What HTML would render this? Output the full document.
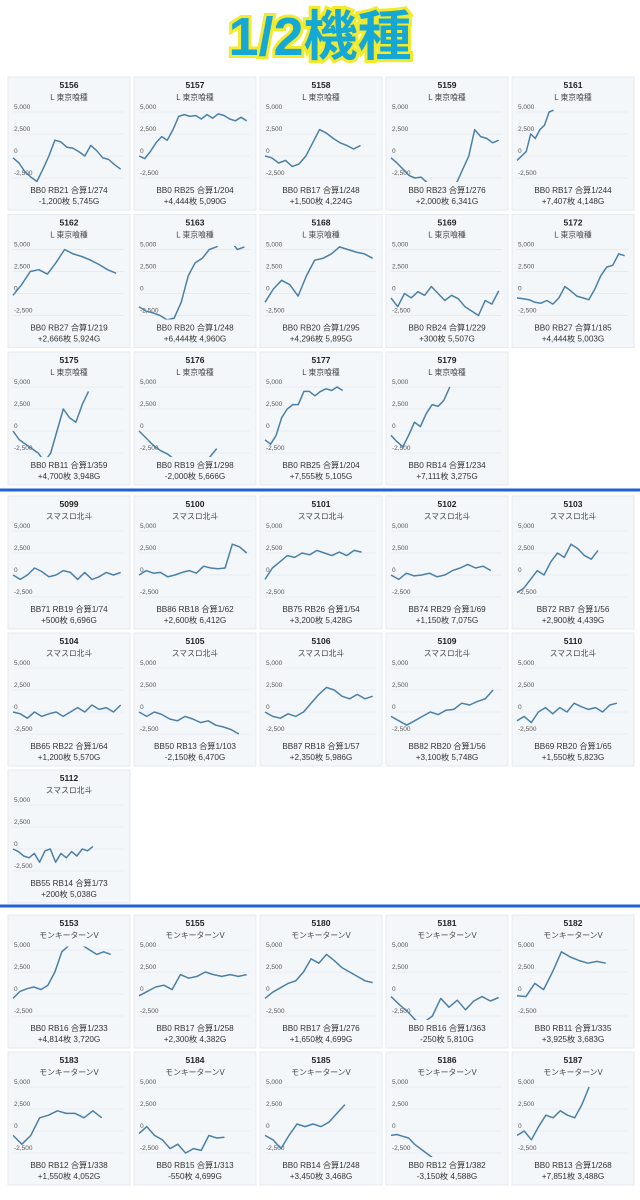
<!DOCTYPE html>
<html><head><meta charset="utf-8">
<style>
html,body{margin:0;padding:0;background:#fff;width:640px;height:1200px;overflow:hidden}
#title{position:absolute;left:0;top:2px;width:640px;text-align:center;font-family:"Liberation Sans","Noto Sans CJK JP",sans-serif;font-weight:bold;font-size:54px;line-height:70px;color:#16a8d4;-webkit-text-stroke:6px #f2ea2a;paint-order:stroke fill;letter-spacing:0px}
svg{position:absolute;left:0;top:0}
text{font-family:"Liberation Sans","Noto Sans CJK JP",sans-serif}
</style></head><body>
<div id="title">1/2機種</div>
<svg id="s" width="640" height="1200"></svg>
<script>
const ids=["5156","5157","5158","5159","5161","5162","5163","5168","5169","5172","5175","5176","5177","5179",
"5099","5100","5101","5102","5103","5104","5105","5106","5109","5110","5112",
"5153","5155","5180","5181","5182","5183","5184","5185","5186","5187"];
const models=[...Array(14).fill("L 東京喰種"),...Array(11).fill("スマスロ北斗"),...Array(10).fill("モンキーターンV")];
const values=[
[-200,-800,-1800,-2400,-2900,-1500,0,1800,1600,1000,900,500,0,1200,600,-200,-400,-1000,-1500],
[0,-300,500,1500,2200,1800,3000,4500,4700,4500,4600,4200,4700,4300,4800,4600,4200,4000,4400,4000],
[0,-200,-800,-500,-1200,-900,0,1500,3000,2600,2000,1500,1200,800,1200],
[-200,-800,-1500,-2200,-2500,-2400,-3000,-4000,-4500,-4500,-4000,-3000,-1500,0,3000,2200,2000,1500,1800],
[-500,0,500,2500,2000,3000,3500,5000,5200],
[-200,1000,2500,2700,2200,3500,5000,4500,4200,3800,3300,2700,2300],
[-1500,-2000,-2200,-2500,-3000,-2800,-1000,2000,3500,4000,5000,5300,6000,6000,5000,5300],
[-1000,500,1500,1000,-300,2000,3800,4000,4500,5300,5000,4700,4500,4000],
[-500,-1500,0,-500,200,-200,800,0,-800,-200,-600,-1500,-2000,-2500,-800,-1200,300],
[-500,-600,-700,-1000,-1100,-800,-1200,-500,800,300,-300,-500,-700,500,2000,3000,3200,4500,4300],
[0,-1000,-1500,-2000,-2500,-3500,-2500,0,2500,1500,1000,3000,4500],
[0,-800,-1600,-2200,-2600,-3200,-4000,-4500,-4500,-4000,-3000,-2000],
[-1000,-1500,-500,1500,2500,3000,3000,4500,4500,4000,4500,4800,4600,5000,4600],
[-500,-1200,-1800,-500,1000,500,2000,3000,2800,3500,5000],
[0,-500,0,800,400,-200,0,500,300,-500,300,-500,-200,300,0,300],
[0,500,200,300,-200,0,300,500,200,1000,800,700,800,3500,3200,2500],
[-500,800,1500,2200,2000,2500,2300,2800,2500,2200,2600,2200,2800,2600],
[0,-500,200,-100,0,200,-200,0,500,800,1200,800,1000,500],
[-2000,-1500,-500,500,0,1500,2500,2000,3500,3000,2200,1800,2800],
[0,-200,-700,0,-500,-200,0,-500,0,500,0,800,300,500,0,800],
[0,-500,0,-300,-800,-1000,-500,-800,-1200,-1000,-1500,-1700,-2000,-2500],
[0,-500,-700,-200,-500,0,1000,2000,2800,2500,1800,1500,2000,1500,1800],
[-500,-1000,-1500,-1000,-500,0,-300,200,300,1000,800,1200,1500,2500],
[-1000,-500,-1200,0,500,-200,500,0,1000,600,300,500,0,800,1000],
[0,-300,-800,-1000,-500,-1500,-200,0,-1500,-500,-1000,-300,-800,0,-200,300],
[-500,300,600,800,500,1000,2500,4800,5500,6000,5500,5000,4500,4800,4500],
[-200,300,800,1000,500,2200,1800,2000,2500,2200,2000,2200,2000,2200],
[-500,200,700,1200,1500,2500,4000,3500,4500,3800,3000,2500,2000,1500,1300],
[-300,-1200,-2000,-3000,-3200,-2500,-500,-1500,-700,-1800,-800,-300,-800,-400],
[-200,-300,1200,500,2500,4800,4200,3800,3500,3700,3500],
[-500,-1500,-500,1500,1800,2300,2000,2000,1500,2300,1500],
[-300,500,-500,-1000,-2000,-1500,-2500,-2000,-2200,-500,-800,-700],
[-500,-1000,-2000,-500,800,500,800,500,1000,2000,3000],
[-500,-400,-600,-800,-1500,-2000,-2500,-3000],
[-500,0,-1000,500,1800,1500,2300,1800,1500,3000,5000]];
const ends=[0.97,0.97,0.86,0.97,0.33,0.93,0.95,0.97,0.97,0.97,0.68,0.7,0.7,0.53,
0.97,0.97,0.87,0.9,0.73,0.97,0.9,0.97,0.92,0.9,0.72,
0.88,0.97,0.97,0.97,0.8,0.8,0.77,0.72,0.37,0.65];
const stats1=["BB0 RB21 合算1/274","BB0 RB25 合算1/204","BB0 RB17 合算1/248","BB0 RB23 合算1/276","BB0 RB17 合算1/244","BB0 RB27 合算1/219","BB0 RB20 合算1/248","BB0 RB20 合算1/295","BB0 RB24 合算1/229","BB0 RB27 合算1/185","BB0 RB11 合算1/359","BB0 RB19 合算1/298","BB0 RB25 合算1/204","BB0 RB14 合算1/234",
"BB71 RB19 合算1/74","BB86 RB18 合算1/62","BB75 RB26 合算1/54","BB74 RB29 合算1/69","BB72 RB7 合算1/56","BB65 RB22 合算1/64","BB50 RB13 合算1/103","BB87 RB18 合算1/57","BB82 RB20 合算1/56","BB69 RB20 合算1/65","BB55 RB14 合算1/73",
"BB0 RB16 合算1/233","BB0 RB17 合算1/258","BB0 RB17 合算1/276","BB0 RB16 合算1/363","BB0 RB11 合算1/335","BB0 RB12 合算1/338","BB0 RB15 合算1/313","BB0 RB14 合算1/248","BB0 RB12 合算1/382","BB0 RB13 合算1/268"];
const stats2=["-1,200枚 5,745G","+4,444枚 5,090G","+1,500枚 4,224G","+2,000枚 6,341G","+7,407枚 4,148G","+2,666枚 5,924G","+6,444枚 4,960G","+4,296枚 5,895G","+300枚 5,507G","+4,444枚 5,003G","+4,700枚 3,948G","-2,000枚 5,666G","+7,555枚 5,105G","+7,111枚 3,275G",
"+500枚 6,696G","+2,600枚 6,412G","+3,200枚 5,428G","+1,150枚 7,075G","+2,900枚 4,439G","+1,200枚 5,570G","-2,150枚 6,470G","+2,350枚 5,986G","+3,100枚 5,748G","+1,550枚 5,823G","+200枚 5,038G",
"+4,814枚 3,720G","+2,300枚 4,382G","+1,650枚 4,699G","-250枚 5,810G","+3,925枚 3,683G","+1,550枚 4,052G","-550枚 4,699G","+3,450枚 3,468G","-3,150枚 4,588G","+7,851枚 3,488G"];
const ticks=[5000,2500,0,-2500];
const tickLabels=["5,000","2,500","0","-2,500"];

const NS="http://www.w3.org/2000/svg";
const svg=document.getElementById('s');
function mk(tag,attrs,parent){const e=document.createElementNS(NS,tag);for(const k in attrs)e.setAttribute(k,attrs[k]);(parent||svg).appendChild(e);return e;}
[490,906].forEach((y)=>{
 const l=mk('rect',{x:0,y:y-1.5,width:640,height:3,fill:'#1f63cf'});
 
 
});
const sectionTops=[[77,214.5,352],[496,633,770],[915,1052]];
const sectionStart=[0,14,25];
const sectionCount=[14,11,10];
const CW=122,CH=133,PX=126;
for(let s=0;s<3;s++){
 for(let k=0;k<sectionCount[s];k++){
  const idx=sectionStart[s]+k;
  const cx=8+(k%5)*PX, cy=sectionTops[s][Math.floor(k/5)];
  const g=mk('g',{});
  
  
  mk('rect',{x:cx,y:cy,width:CW,height:CH,fill:'#f4f7fa',stroke:'#e6ebf0','stroke-width':1},g);
  const t=mk('text',{x:cx+CW/2,y:cy+11,'text-anchor':'middle','font-size':8.5,'font-weight':'bold',fill:'#222'},g);
  t.textContent=ids[idx];
  
  
  const st=mk('text',{x:cx+CW/2,y:cy+23,'text-anchor':'middle','font-size':7.8,fill:'#444'},g);
  st.textContent=models[idx];
  
  
  const yS=v=>cy+35+(5000-v)*(66/7500);
  const x0=cx+5,x1=cx+CW-6;
  const xS=f=>x0+f*(x1-x0);
  ticks.forEach((tv,i)=>{
   mk('line',{x1:x0,x2:x1,y1:yS(tv),y2:yS(tv),stroke:'#e3e7ec','stroke-width':0.7},g);
   const tl=mk('text',{x:cx+6,y:yS(tv)-3,'font-size':6.5,fill:'#555'},g);
   tl.textContent=tickLabels[i];
   
   
  });
  const cid='c'+idx;
  const cp=mk('clipPath',{id:cid},g);
  mk('rect',{x:x0-2,y:yS(5400),width:x1-x0+4,height:yS(-2950)-yS(5400)},cp);
  const vals=values[idx];
  const pts=vals.map((v,i)=>xS(i/(vals.length-1)*ends[idx]).toFixed(1)+','+yS(v).toFixed(1)).join(' ');
  const pl=mk('polyline',{points:pts,fill:'none',stroke:'#4a80a8','stroke-width':1.5,'stroke-linejoin':'round','clip-path':'url(#'+cid+')'},g);
  
  
  const a=mk('text',{x:cx+CW/2,y:cy+116,'text-anchor':'middle','font-size':8.2,fill:'#333'},g);
  a.textContent=stats1[idx];
  
  
  const b=mk('text',{x:cx+CW/2,y:cy+127,'text-anchor':'middle','font-size':8.2,fill:'#333'},g);
  b.textContent=stats2[idx];
  
  
 }
}
</script>
</body></html>
